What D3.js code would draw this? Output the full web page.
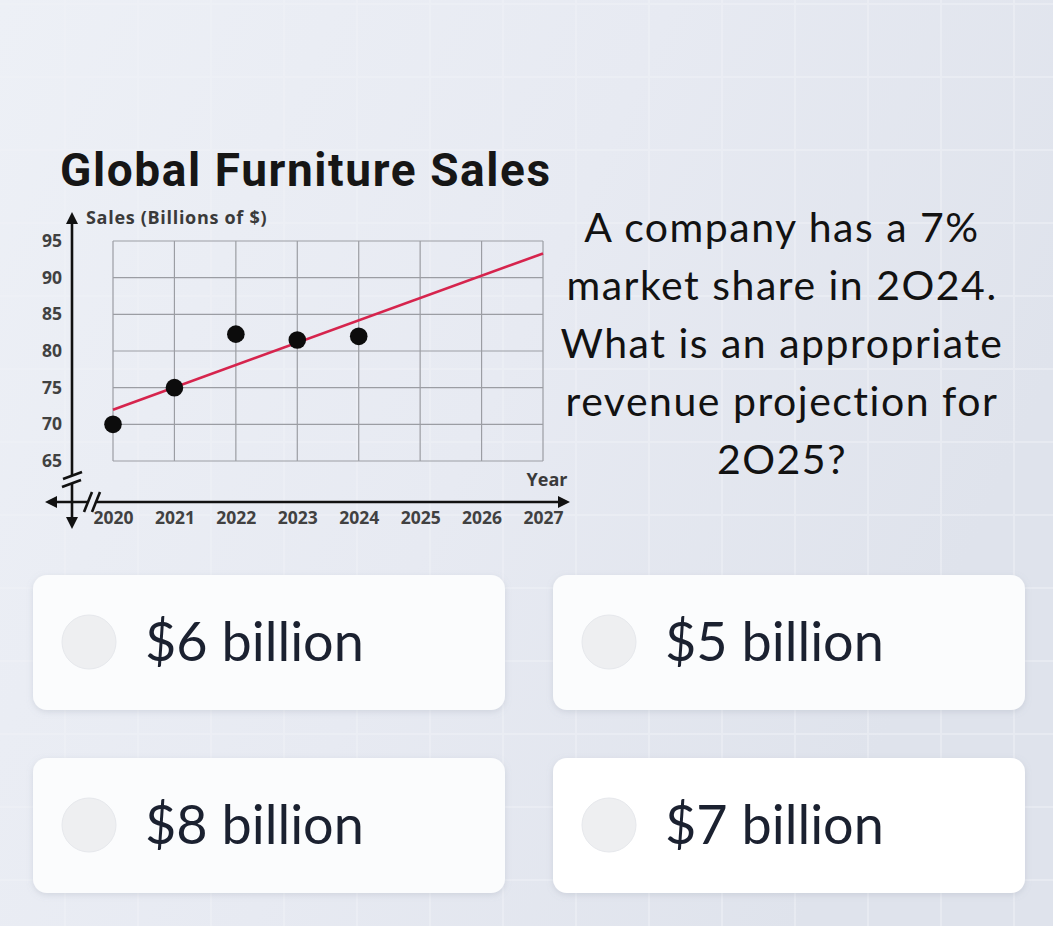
<!DOCTYPE html>
<html>
<head>
<meta charset="utf-8">
<script src="https://cdn.jsdelivr.net/npm/d3@7"></script>
<style>
  body { margin: 0; background: #e6e9f1; }
  svg { display: block; }
</style>
</head>
<body>
<div class="container"></div>
<script>
const size = {
    width: 1053,
    height: 926
};

// chart values
const years = [2020, 2021, 2022, 2023, 2024];
const sales = [70, 75, 82.3, 81.5, 82];
const trendYears = [2020, 2027];
const trendSales = [72, 93.3];
const yTicks = [65, 70, 75, 80, 85, 90, 95];
const xTicks = [2020, 2021, 2022, 2023, 2024, 2025, 2026, 2027];

const title = "Global Furniture Sales";
const yLabel = "Sales (Billions of $)";
const xLabel = "Year";
const question = ["A company has a 7%", "market share in 2O24.", "What is an appropriate", "revenue projection for", "2O25?"];
const choices = ["$6 billion", "$5 billion", "$8 billion", "$7 billion"];

const svg = d3.select(".container")
              .append("svg")
              .attr("width", size.width)
              .attr("height", size.height);

const defs = svg.append("defs");

const bg = defs.append("linearGradient")
    .attr("id", "bg")
    .attr("x1", 0).attr("y1", 0).attr("x2", 1).attr("y2", 0.4);
bg.append("stop").attr("offset", "0%").attr("stop-color", "#edf0f6");
bg.append("stop").attr("offset", "55%").attr("stop-color", "#e7eaf2");
bg.append("stop").attr("offset", "100%").attr("stop-color", "#dfe3ec");

const shadow = defs.append("filter")
    .attr("id", "shadow")
    .attr("x", "-10%").attr("y", "-20%")
    .attr("width", "120%").attr("height", "150%");
shadow.append("feDropShadow")
    .attr("dx", 0).attr("dy", 2)
    .attr("stdDeviation", 3)
    .attr("flood-color", "#8c93a6")
    .attr("flood-opacity", 0.25);

svg.append("rect")
    .attr("width", size.width)
    .attr("height", size.height)
    .attr("fill", "url(#bg)");

// faint background grid
const bgGrid = svg.append("g").attr("stroke", "#f0f2f7").attr("stroke-width", 2).attr("opacity", 0.5);
d3.range(65, size.width, 73).forEach(x => {
    bgGrid.append("line").attr("x1", x).attr("x2", x).attr("y1", 0).attr("y2", size.height);
});
d3.range(4, size.height, 73).forEach(y => {
    bgGrid.append("line").attr("y1", y).attr("y2", y).attr("x1", 0).attr("x2", size.width);
});

// title
svg.append("text")
    .attr("x", 60)
    .attr("y", 186)
    .attr("font-family", "Roboto, sans-serif")
    .attr("font-weight", 700)
    .attr("font-size", 46)
    .attr("letter-spacing", 1.6)
    .attr("fill", "#161616")
    .text(title);

// chart
const x = d3.scaleLinear().domain([2020, 2027]).range([113, 543]);
const y = d3.scaleLinear().domain([65, 95]).range([461, 241]);

const g = svg.append("g");

g.append("g")
    .selectAll("line")
    .data(xTicks)
    .enter()
    .append("line")
    .attr("x1", d => x(d)).attr("x2", d => x(d))
    .attr("y1", y(65)).attr("y2", y(95))
    .attr("stroke", "#9b9da3")
    .attr("stroke-width", 1.2);

g.append("g")
    .selectAll("line")
    .data(yTicks)
    .enter()
    .append("line")
    .attr("x1", x(2020)).attr("x2", x(2027))
    .attr("y1", d => y(d)).attr("y2", d => y(d))
    .attr("stroke", "#9b9da3")
    .attr("stroke-width", 1.2);

const axisX0 = 72;
const axisY0 = 502;

const yAxis = g.append("g")
    .attr("transform", `translate(${axisX0},0)`)
    .call(d3.axisLeft(y).tickValues(yTicks).tickSize(0).tickPadding(10));
yAxis.select(".domain").remove();

const xAxis = g.append("g")
    .attr("transform", `translate(0,${axisY0})`)
    .call(d3.axisBottom(x).tickValues(xTicks).tickFormat(d3.format("d")).tickSize(0).tickPadding(10));
xAxis.select(".domain").remove();

g.selectAll(".tick text")
    .attr("font-family", "'Open Sans', sans-serif")
    .attr("font-weight", 700)
    .attr("font-size", 17.5)
    .attr("fill", "#414141");

// axis lines with arrows and breaks
const ax = g.append("g").attr("stroke", "#111").attr("stroke-width", 2.6).attr("fill", "none");
ax.append("line").attr("x1", axisX0).attr("x2", axisX0).attr("y1", 220).attr("y2", 475);
ax.append("line").attr("x1", axisX0).attr("x2", axisX0).attr("y1", 484).attr("y2", 522);
ax.append("line").attr("x1", 52).attr("x2", 88).attr("y1", axisY0).attr("y2", axisY0);
ax.append("line").attr("x1", 97).attr("x2", 563).attr("y1", axisY0).attr("y2", axisY0);
// breaks
ax.append("line").attr("x1", 63).attr("y1", 479).attr("x2", 82).attr("y2", 472);
ax.append("line").attr("x1", 62).attr("y1", 487).attr("x2", 81).attr("y2", 480);
ax.append("line").attr("x1", 84).attr("y1", 512).attr("x2", 92).attr("y2", 492);
ax.append("line").attr("x1", 92).attr("y1", 512).attr("x2", 100).attr("y2", 492);

const arrows = g.append("g").attr("fill", "#111");
arrows.append("path").attr("d", `M${axisX0},212 L${axisX0 - 6},224 L${axisX0 + 6},224 Z`);
arrows.append("path").attr("d", `M${axisX0},529 L${axisX0 - 6},517 L${axisX0 + 6},517 Z`);
arrows.append("path").attr("d", `M45,${axisY0} L57,${axisY0 - 6} L57,${axisY0 + 6} Z`);
arrows.append("path").attr("d", `M570,${axisY0} L558,${axisY0 - 6} L558,${axisY0 + 6} Z`);

g.append("text")
    .attr("x", 86)
    .attr("y", 224)
    .attr("font-family", "'Open Sans', sans-serif")
    .attr("font-weight", 700)
    .attr("font-size", 18)
    .attr("letter-spacing", 0.7)
    .attr("fill", "#3a3a3a")
    .text(yLabel);

g.append("text")
    .attr("x", 547)
    .attr("y", 486)
    .attr("text-anchor", "middle")
    .attr("font-family", "'Open Sans', sans-serif")
    .attr("font-weight", 700)
    .attr("font-size", 18)
    .attr("fill", "#3a3a3a")
    .text(xLabel);

// trend line
const line = d3.line().x(d => x(d[0])).y(d => y(d[1]));
g.append("path")
    .attr("d", line(d3.zip(trendYears, trendSales)))
    .attr("stroke", "#d6244d")
    .attr("stroke-width", 2.6)
    .attr("fill", "none");

// points
g.selectAll("circle.pt")
    .data(d3.zip(years, sales))
    .enter()
    .append("circle")
    .attr("class", "pt")
    .attr("cx", d => x(d[0]))
    .attr("cy", d => y(d[1]))
    .attr("r", 8.8)
    .attr("fill", "#0c0c0c");

// question text
svg.append("g")
    .selectAll("text")
    .data(question)
    .enter()
    .append("text")
    .attr("x", 782)
    .attr("y", (d, i) => 242 + i * 58)
    .attr("text-anchor", "middle")
    .attr("font-family", "Lato, sans-serif")
    .attr("font-size", 41)
    .attr("letter-spacing", 1.5)
    .attr("fill", "#121212")
    .text(d => d);

// answer cards
const cardPos = [[33, 575], [553, 575], [33, 758], [553, 758]];
const cards = svg.append("g")
    .selectAll("g")
    .data(choices)
    .enter()
    .append("g")
    .attr("transform", (d, i) => `translate(${cardPos[i][0]},${cardPos[i][1]})`);

cards.append("rect")
    .attr("width", 472)
    .attr("height", 135)
    .attr("rx", 14)
    .attr("fill", (d, i) => i === 3 ? "#ffffff" : "#fbfcfd")
    .attr("filter", "url(#shadow)");

cards.append("circle")
    .attr("cx", 56)
    .attr("cy", 67)
    .attr("r", 27)
    .attr("fill", "#eeeff1")
    .attr("stroke", "#e6e8ec")
    .attr("stroke-width", 1);

cards.append("text")
    .attr("x", 112)
    .attr("y", 86)
    .attr("font-family", "Lato, sans-serif")
    .attr("font-size", 54)
    .attr("fill", "#1b2130")
    .text(d => d);
</script>
</body>
</html>
